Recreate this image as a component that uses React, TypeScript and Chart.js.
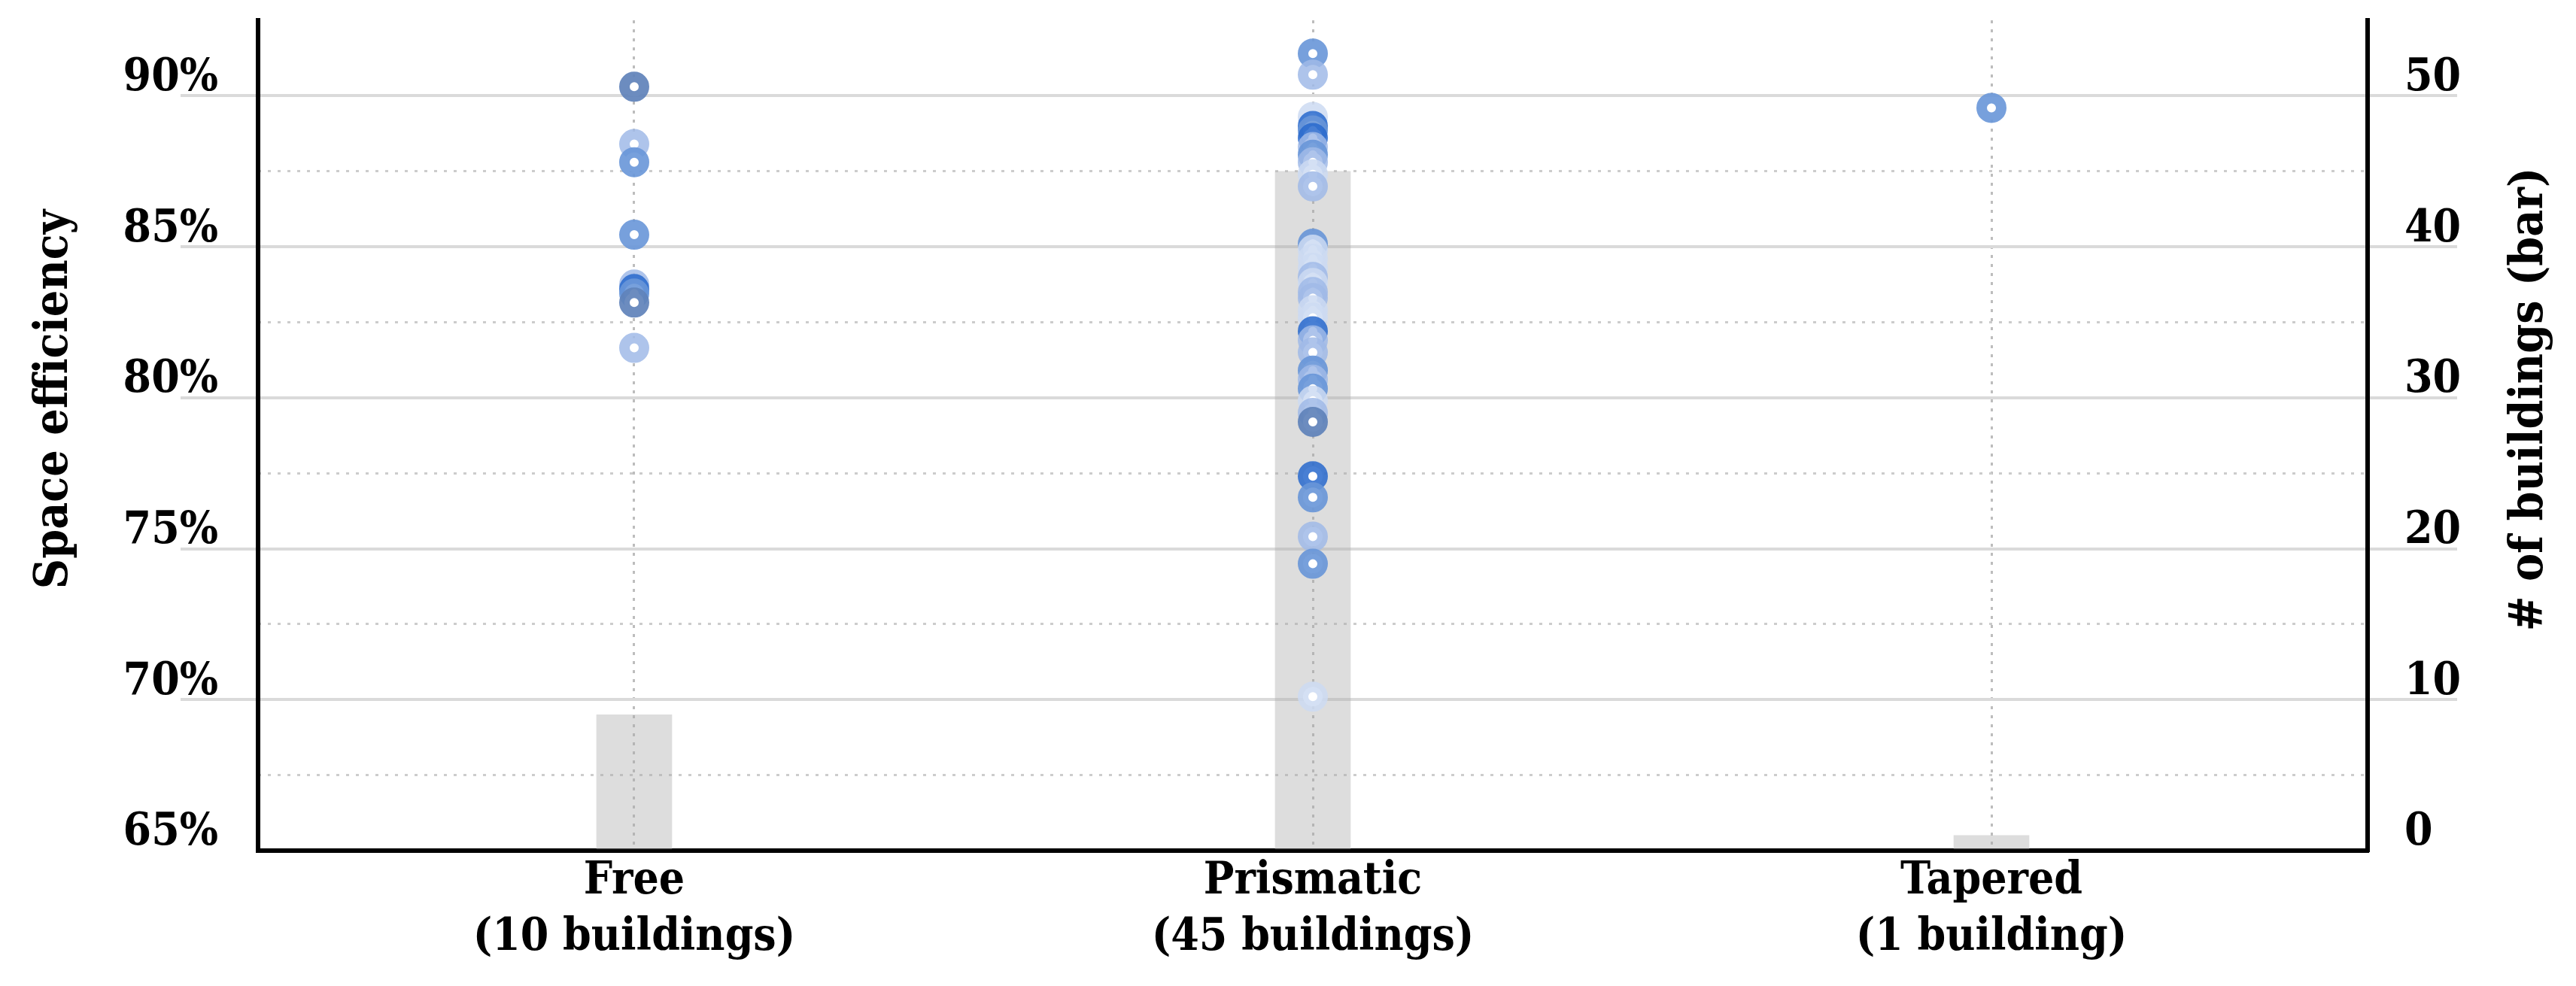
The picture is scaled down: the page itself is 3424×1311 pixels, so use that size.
import React, { useEffect, useRef } from "react";
import { Chart, registerables } from "chart.js";

Chart.register(...registerables);

// ---------- data ----------
const categories = ["Free", "Prismatic", "Tapered"];
const categorySubLabels = ["(10 buildings)", "(45 buildings)", "(1 building)"];
const buildingCounts = [9, 45, 1];

const freeEfficiency = [90.3, 88.4, 87.8, 85.4, 83.75, 83.6, 83.45, 83.15, 81.65];
const prismaticEfficiency = [
  91.4, 90.7, 89.3, 89.0, 88.85, 88.6, 88.3, 88.05, 87.8, 87.4, 87.0,
  85.1, 84.9, 84.6, 84.3, 84.0, 83.8, 83.5, 83.3, 82.9, 82.65, 82.2,
  81.9, 81.5, 80.9, 80.6, 80.3, 79.9, 79.5, 79.2, 77.4, 76.7, 75.4,
  74.5, 70.1,
];
const taperedEfficiency = [89.6];

const leftTicks = [65, 70, 75, 80, 85, 90];
const minorTicks = [67.5, 72.5, 77.5, 82.5, 87.5];
const rightTicks = [0, 10, 20, 30, 40, 50];

// ---------- styles ----------
const palette: Record<string, string> = {
  slate: "rgba(96,130,186,0.92)",
  deep: "rgba(40,104,204,0.85)",
  mid: "rgba(104,150,216,0.9)",
  light: "rgba(160,186,232,0.85)",
  pale: "rgba(205,218,242,0.85)",
};
const freeShades = ["slate", "light", "mid", "mid", "light", "deep", "mid", "slate", "light"];
const prismaticShades = [
  "mid", "light", "pale", "deep", "mid", "deep", "light", "mid", "light", "pale", "light",
  "mid", "pale", "pale", "pale", "light", "pale", "light", "light", "pale", "pale", "deep",
  "light", "light", "mid", "light", "mid", "pale", "light", "slate", "deep", "mid", "light",
  "mid", "pale",
];
const taperedShades = ["mid"];

const FONT = '"DejaVu Serif Condensed", "DejaVu Serif", serif';

const titlePlugin = {
  id: "sideTitles",
  afterDraw(chart: any) {
    const { ctx, chartArea } = chart;
    const cy = chartArea.top + (chartArea.bottom - chartArea.top) * 0.4565;
    ctx.save();
    ctx.fillStyle = "#000";
    ctx.font = `700 62px ${FONT}`;
    ctx.textAlign = "center";
    ctx.textBaseline = "middle";
    ctx.save();
    ctx.translate(chart.scales.y.left + 73, cy);
    ctx.rotate(-Math.PI / 2);
    ctx.fillText("Space efficiency", 0, 0);
    ctx.restore();
    ctx.save();
    ctx.translate(chart.scales.y1.right - 61, cy);
    ctx.rotate(-Math.PI / 2);
    ctx.fillText("# of buildings (bar)", 0, 0);
    ctx.restore();
    ctx.restore();
  },
};

export default function App() {
  const ref = useRef<HTMLCanvasElement>(null);

  useEffect(() => {
    if (!ref.current) return;
    Chart.defaults.font.family = FONT;

    const series = [freeEfficiency, prismaticEfficiency, taperedEfficiency];
    const shades = [freeShades, prismaticShades, taperedShades];
    const points: { x: number; y: number }[] = [];
    const colors: string[] = [];
    series.forEach((vals, ci) => {
      vals.forEach((v, i) => {
        points.push({ x: ci, y: v });
        colors.push(palette[shades[ci][i]]);
      });
    });

    const chart = new Chart(ref.current, {
      type: "bar",
      data: {
        datasets: [
          {
            type: "line",
            label: "Space efficiency",
            data: points,
            showLine: false,
            yAxisID: "y",
            xAxisID: "x",
            pointRadius: 13,
            pointBorderWidth: 14,
            pointBackgroundColor: "#ffffff",
            pointBorderColor: colors,
            order: 1,
          } as any,
          {
            type: "bar",
            label: "# of buildings",
            data: buildingCounts.map((c, i) => ({ x: i, y: c })),
            yAxisID: "y1",
            xAxisID: "x",
            backgroundColor: "rgba(170,170,170,0.4)",
            borderWidth: 0,
            barThickness: 100,
            order: 2,
          } as any,
        ],
      },
      options: {
        responsive: false,
        animation: false,
        devicePixelRatio: 1,
        layout: { padding: { top: 27, left: 0, right: 0, bottom: 0 } },
        plugins: {
          legend: { display: false },
          tooltip: { enabled: false },
        },
        scales: {
          x: {
            type: "linear",
            offset: false,
            min: -0.5543,
            max: 2.5543,
            afterBuildTicks: (scale: any) => {
              scale.ticks = categories.map((_, i) => ({ value: i }));
            },
            afterFit: (scale: any) => {
              scale.height = 180;
            },
            ticks: {
              callback: (v: any) => [categories[v], categorySubLabels[v]],
              color: "#000",
              font: { size: 60, weight: "bold", lineHeight: 1.25 },
              padding: 4,
              maxRotation: 0,
              autoSkip: false,
            },
            grid: {
              offset: false,
              color: "#bdbdbd",
              lineWidth: 3,
              drawTicks: false,
            },
            border: { display: true, color: "#000", width: 6, dash: [4, 8] },
          },
          y: {
            type: "linear",
            position: "left",
            min: 65,
            max: 92.5,
            weight: 0,
            afterBuildTicks: (scale: any) => {
              scale.ticks = leftTicks.map((v) => ({ value: v }));
            },
            afterFit: (scale: any) => {
              scale.width = 343;
            },
            ticks: {
              callback: (v: any) => [`${v}%`, ""],
              color: "#000",
              font: { size: 60, weight: "bold", lineHeight: 0.77 },
              padding: -50,
            },
            grid: {
              color: (c: any) => (c.tick && c.tick.value === 65 ? "rgba(0,0,0,0)" : "#dadada"),
              lineWidth: 4,
              tickLength: 103,
              tickWidth: 4,
            },
            border: { display: true, color: "#000", width: 6 },
          },
          yMinor: {
            type: "linear",
            position: "left",
            min: 65,
            max: 92.5,
            weight: 1,
            afterBuildTicks: (scale: any) => {
              scale.ticks = minorTicks.map((v) => ({ value: v }));
            },
            afterFit: (scale: any) => {
              scale.width = 0;
            },
            ticks: { display: false },
            grid: {
              color: "#cccccc",
              lineWidth: 3,
              drawTicks: false,
            },
            border: { display: false, dash: [4, 9] },
          },
          y1: {
            type: "linear",
            position: "right",
            min: 0,
            max: 55,
            afterBuildTicks: (scale: any) => {
              scale.ticks = rightTicks.map((v) => ({ value: v }));
            },
            afterFit: (scale: any) => {
              scale.width = 277;
            },
            ticks: {
              callback: (v: any) => [`${v}`, ""],
              color: "#000",
              font: { size: 60, weight: "bold", lineHeight: 0.77 },
              padding: -70,
            },
            grid: {
              drawOnChartArea: false,
              color: (c: any) => (c.tick && c.tick.value === 0 ? "rgba(0,0,0,0)" : "#dadada"),
              lineWidth: 4,
              tickLength: 119,
              tickWidth: 4,
            },
            border: { display: true, color: "#000", width: 6 },
          },
        },
      } as any,
      plugins: [titlePlugin],
    });

    return () => chart.destroy();
  }, []);

  return (
    <canvas
      ref={ref}
      width={3424}
      height={1311}
      style={{ position: "fixed", left: 0, top: 0, display: "block" }}
    />
  );
}
